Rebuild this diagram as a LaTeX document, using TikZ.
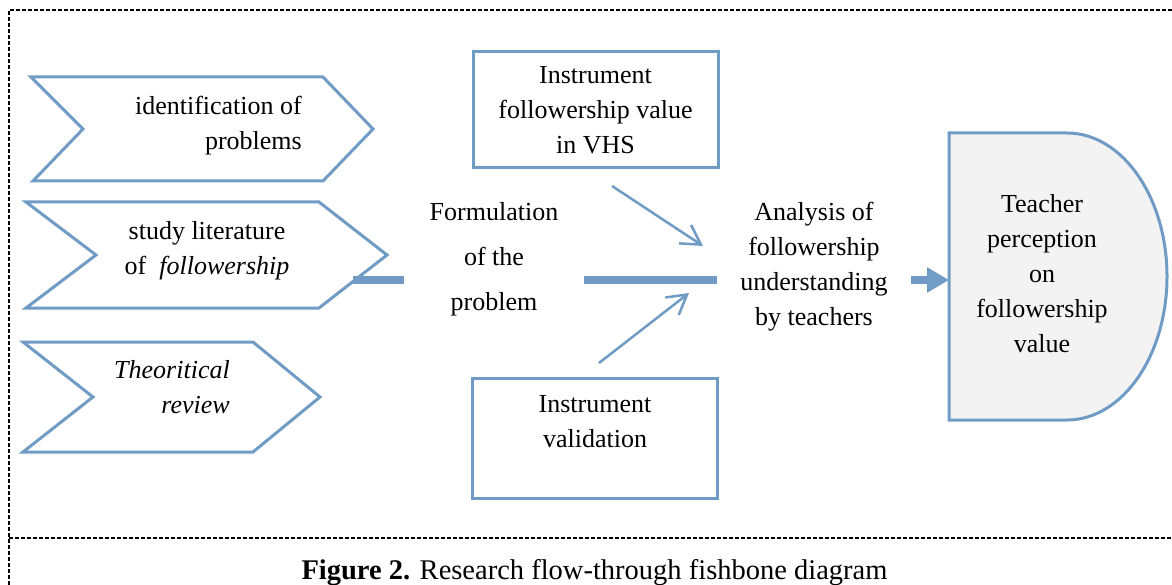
\documentclass[tikz,border=0pt]{standalone}
\usepackage{fontspec}
\setmainfont{Liberation Serif}
\usetikzlibrary{arrows.meta}
\definecolor{fishblue}{RGB}{112,155,196}
\definecolor{paper}{RGB}{244,243,243}
\tikzset{
  bone/.style={color=fishblue, line width=3pt},
  spine/.style={color=fishblue, line width=8pt},
  rib/.style={color=fishblue, line width=2.5pt, -{Straight Barb[length=19pt,width=22pt]}},
  ribbox/.style={draw=fishblue, line width=3pt, minimum width=245pt},
  stage/.style={anchor=north, align=center, inner sep=0pt},
  frame/.style={line width=1.4pt, dash pattern=on 4pt off 2pt}
}
\begin{document}
\begin{tikzpicture}[x=1pt, y=-1pt, font=\fontsize{26pt}{35pt}\selectfont]
\useasboundingbox (0,0) rectangle (1172,585);
% frame
\draw[frame] (9,585) -- (9,10) -- (1172,10);
\draw[frame] (9,538) -- (1172,538);

% causes on the left
\draw[bone] (31,77) -- (323,77) -- (373,129) -- (323,181) -- (33,181) -- (83,129) -- cycle;
\node[stage, anchor=north east, align=right] (ident) at (302,96) {identification of\\problems};
\draw[bone] (26,202) -- (319,202) -- (387,255) -- (319,308) -- (26,308) -- (96,255) -- cycle;
\node[stage] (study) at (207,221) {study literature\\of~~\textit{followership}};
\draw[bone] (23,342) -- (253,342) -- (320,397) -- (253,452) -- (23,452) -- (93,397) -- cycle;
\node[stage, anchor=north east, align=right, font=\fontsize{26pt}{35pt}\selectfont\itshape] (review) at (230,360) {Theoritical\\review};

% instruments
\node[ribbox, minimum height=116pt, align=center] (vhs) at (595.5,110) {Instrument\\followership value\\in VHS};
\node[ribbox, minimum height=120pt] (valid) at (595,438) {};
\node[stage] (validtxt) at (595,395) {Instrument\\validation};
\coordinate (vhsfoot) at (612,186);
\coordinate (vhshead) at (703,246);
\coordinate (validfoot) at (599,363);
\coordinate (validhead) at (689,293);
\draw[rib] (vhsfoot) -- (vhshead);
\draw[rib] (validfoot) -- (validhead);

% spine
\coordinate (tail) at (353,280);
\coordinate (resin) at (949,280);
\node[stage, inner xsep=26pt, font=\fontsize{26pt}{45pt}\selectfont] (formul) at (494,202) {Formulation\\of the\\problem};
\node[stage, inner xsep=23pt] (analysis) at (814,202) {Analysis of\\followership\\understanding\\by teachers};
\draw[spine] (tail) -- (tail -| formul.west);
\draw[spine] (formul.east |- tail) -- (analysis.west |- tail);
\draw[spine, -{Triangle[length=22pt,width=24pt]}] (analysis.east |- tail) -- (resin);

% result
\draw[bone, fill=paper] (949,133) -- (1067,133) arc[start angle=-90, end angle=90, x radius=100, y radius=143.5] -- (949,420) -- cycle;
\node[stage] (percept) at (1042,194) {Teacher\\perception\\on\\followership\\value};

\node[anchor=base, inner sep=0pt, font=\fontsize{28.5pt}{34pt}\selectfont] (caption) at (594.5,579) {\textbf{Figure 2.} Research flow-through fishbone diagram};
\end{tikzpicture}
\end{document}
